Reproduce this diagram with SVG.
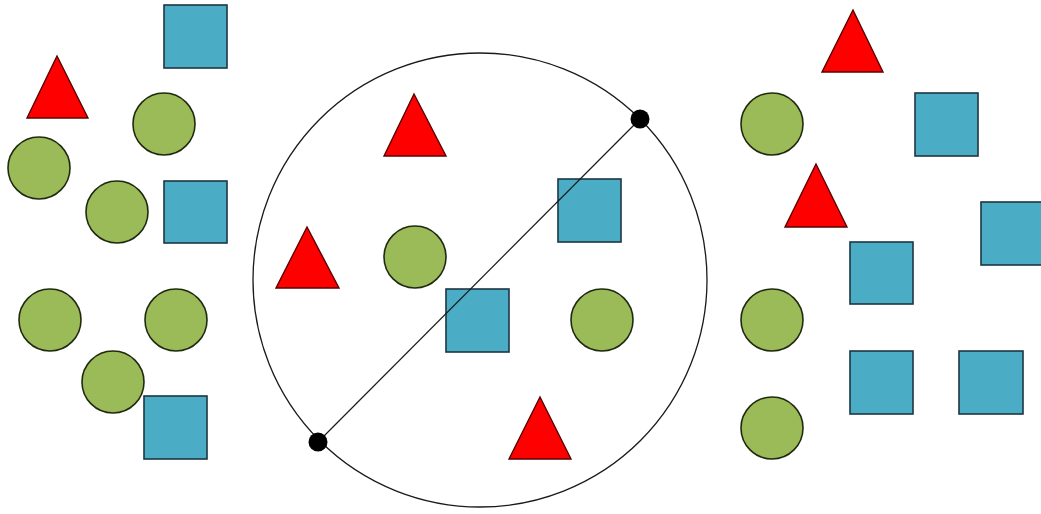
<svg xmlns="http://www.w3.org/2000/svg" width="1041" height="514" viewBox="0 0 1041 514">
<style>
.c{fill:#9bbb59;stroke:#1f2a10;stroke-width:1.6}
.s{fill:#4bacc6;stroke:#1c3640;stroke-width:1.6}
.t{fill:#ff0000;stroke:#5a0000;stroke-width:1.4;stroke-linejoin:miter}
.ring{fill:none;stroke:#1a1a1a;stroke-width:1.3}
.line{stroke:#1a1a1a;stroke-width:1.2}
.dot{fill:#000}
</style>
<rect width="1041" height="514" fill="#fff"/>
<g id="boundary">
<circle class="ring" cx="480" cy="280" r="227"/>
</g>
<g id="left-group">
<rect class="s" x="164" y="5" width="63" height="63"/>
<polygon class="t" points="57,56 27,118 88,118"/>
<circle class="c" cx="164" cy="124" r="31"/>
<circle class="c" cx="39" cy="168" r="31"/>
<circle class="c" cx="117" cy="212" r="31"/>
<rect class="s" x="164" y="181" width="63" height="62"/>
<circle class="c" cx="50" cy="320" r="31"/>
<circle class="c" cx="176" cy="320" r="31"/>
<circle class="c" cx="113" cy="382" r="31"/>
<rect class="s" x="144" y="396" width="63" height="63"/>
</g>
<g id="inside-group">
<polygon class="t" points="414,94 384,156 446,156"/>
<polygon class="t" points="307,227 276,288 339,288"/>
<circle class="c" cx="415" cy="257" r="31"/>
<rect class="s" x="558" y="179" width="63" height="63"/>
<rect class="s" x="446" y="289" width="63" height="63"/>
<circle class="c" cx="602" cy="320" r="31"/>
<polygon class="t" points="540,397 509,459 571,459"/>
</g>
<g id="diameter">
<line class="line" x1="318" y1="442" x2="640" y2="119"/>
<circle class="dot" cx="640" cy="119" r="9.5"/>
<circle class="dot" cx="318" cy="442" r="9.5"/>
</g>
<g id="right-group">
<polygon class="t" points="853,10 822,72 883,72"/>
<circle class="c" cx="772" cy="124" r="31"/>
<rect class="s" x="915" y="93" width="63" height="63"/>
<polygon class="t" points="816,164 785,227 847,227"/>
<rect class="s" x="981" y="202" width="63" height="63"/>
<rect class="s" x="850" y="242" width="63" height="62"/>
<circle class="c" cx="772" cy="320" r="31"/>
<rect class="s" x="850" y="351" width="63" height="63"/>
<rect class="s" x="959" y="351" width="64" height="63"/>
<circle class="c" cx="772" cy="428" r="31"/>
</g>
</svg>
